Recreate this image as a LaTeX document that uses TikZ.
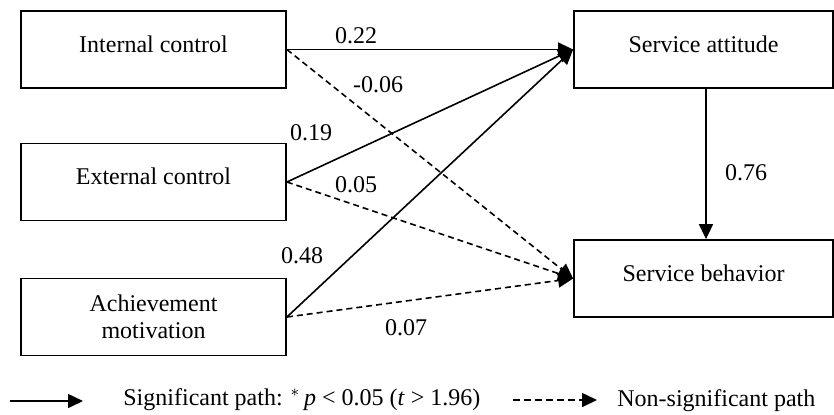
\documentclass[tikz,border=0pt]{standalone}
\usepackage{fontspec}
\setmainfont{Liberation Serif}
\usetikzlibrary{arrows.meta}
\begin{document}
\begin{tikzpicture}[x=0.5pt,y=-0.5pt,
  font=\fontsize{12}{13.25}\selectfont,
  box/.style={draw,line width=0.9pt,rectangle,inner sep=0pt,align=center},
  lbox/.style={box,minimum width=132.5pt,minimum height=38.5pt},
  rbox/.style={box,minimum width=129.5pt,minimum height=38.5pt},
  one/.style={text height=10pt,text depth=7.5pt},
  sig/.style={line width=0.8pt,-{Triangle[length=7.5pt,width=7pt]}},
  nsig/.style={line width=0.8pt,dash pattern=on 3pt off 2pt,-{Triangle[length=7.5pt,width=7pt]}},
  lab/.style={anchor=base,inner sep=0pt}]
\useasboundingbox (0,0) rectangle (834,414);
% boxes
\node[lbox,one] (ic) at (153.5,49.5) {Internal control};
\node[lbox,one] (ec) at (153.5,182) {External control};
\node[lbox] (am) at (153.5,317) {Achievement\\motivation};
\node[rbox,one] (sa) at (703.5,49.5) {Service attitude};
\node[rbox,one] (sb) at (703.5,278.5) {Service behavior};
% paths
\draw[sig] (ic.east) -- (sa.west);
\draw[sig] (ec.east) -- (sa.west);
\draw[sig] (am.east) -- (sa.west);
\draw[nsig] (ic.east) -- (sb.west);
\draw[nsig] (ec.east) -- (sb.west);
\draw[nsig] (am.east) -- (sb.west);
\draw[sig] ([xshift=1.25pt]sa.south) -- ([xshift=1.25pt]sb.north);
% labels
\node[lab] (l1) at (356,43) {0.22};
\node[lab] (l2) at (378,92) {-0.06};
\node[lab] (l3) at (311,140) {0.19};
\node[lab] (l4) at (356,192) {0.05};
\node[lab] (l5) at (302,263) {0.48};
\node[lab] (l6) at (406,335) {0.07};
\node[lab] (l7) at (746,180) {0.76};
% legend
\coordinate (s0) at (10,401);
\coordinate (s1) at (83,401);
\draw[sig] (s0) -- (s1);
\node[lab,anchor=base west] (t1) at (123,405.5) {Significant path: $^{*}$\,\textit{p} < 0.05 (\textit{t} > 1.96)};
\coordinate (d0) at (513,400);
\coordinate (d1) at (597,400);
\draw[line width=0.8pt,dash pattern=on 3.5pt off 2pt,-{Triangle[length=7.5pt,width=7pt]}] (d0) -- (d1);
\node[lab,anchor=base west] (t2) at (617,406) {Non-significant path};
\end{tikzpicture}
\end{document}
